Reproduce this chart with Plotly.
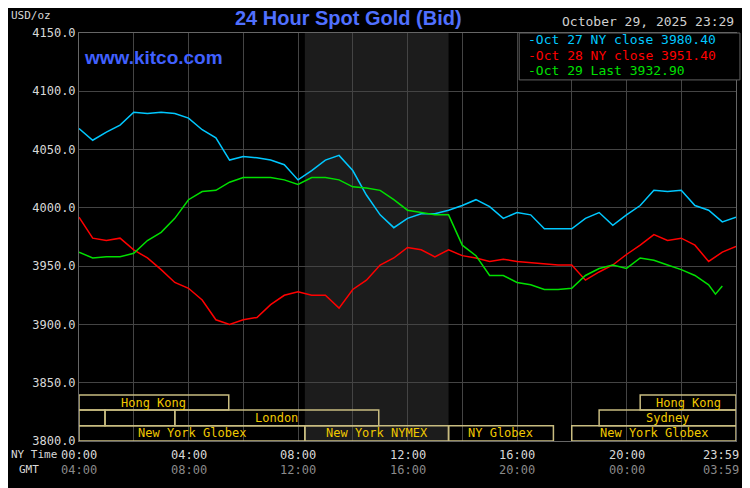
import plotly.graph_objects as go

# half-hour steps, NY time
hours = [i * 0.5 for i in range(49)]
oct27 = [4068, 4058, 4065, 4071, 4082, 4081, 4082, 4081, 4077, 4067, 4060, 4041, 4044, 4043,
         4041, 4037, 4024, 4032, 4041, 4045, 4032, 4011, 3994, 3983, 3991, 3995, 3995, 3998,
         4002, 4007, 4001, 3991, 3996, 3994, 3982, 3982, 3982, 3991, 3996, 3985, 3994, 4002,
         4015, 4014, 4015, 4002, 3998, 3988, 3992]
oct28 = [3992, 3974, 3972, 3974, 3964, 3957, 3947, 3936, 3931, 3921, 3904, 3900, 3904, 3906,
         3917, 3925, 3928, 3925, 3925, 3914, 3930, 3938, 3951, 3957, 3966, 3964, 3958, 3964,
         3959, 3957, 3954, 3956, 3954, 3953, 3952, 3951, 3951, 3938, 3945, 3951, 3960, 3968,
         3977, 3972, 3974, 3968, 3954, 3962, 3967]
oct29 = [3962, 3957, 3958, 3958, 3961, 3972, 3979, 3991, 4007, 4014, 4015, 4022, 4026, 4026,
         4026, 4024, 4020, 4026, 4026, 4024, 4018, 4017, 4015, 4007, 3998, 3996, 3994, 3994,
         3968, 3959, 3942, 3942, 3936, 3934, 3930, 3930, 3931, 3942, 3948, 3951, 3948, 3957,
         3955, 3951, 3947, 3942, 3934, 3926, 3932.9]
oct29_hours = hours[:47] + [23.25, 23.5]

legend_lines = ["Oct 27 NY close 3980.40", "Oct 28 NY close 3951.40", "Oct 29 Last 3932.90"]
legend_colors = ["#00c8ff", "#ff0000", "#00e000"]

ny_ticks = ["00:00", "04:00", "08:00", "12:00", "16:00", "20:00", "23:59"]
gmt_ticks = ["04:00", "08:00", "12:00", "16:00", "20:00", "00:00", "03:59"]
tick_pos = [0, 4, 8, 12, 16, 20, 24]

# (start, end, row, label)
sessions = [
    (0, 5.47, 0, "Hong Kong"), (20.5, 24, 0, "Hong Kong"),
    (0, 0.95, 1, ""), (0.95, 3.5, 1, ""), (3.5, 10.95, 1, "London"), (19, 24, 1, "Sydney"),
    (0, 8.25, 2, "New York Globex"), (8.25, 13.5, 2, "New York NYMEX"),
    (13.5, 17.33, 2, "NY Globex"), (18, 24, 2, "New York Globex"),
]
row_y = [(3826.5, 3839.5), (3813, 3826.5), (3800, 3813)]

mono = "DejaVu Sans Mono"
fig = go.Figure()
fig.add_trace(go.Scatter(x=hours, y=oct27, mode="lines", line=dict(color=legend_colors[0], width=1.5)))
fig.add_trace(go.Scatter(x=hours, y=oct28, mode="lines", line=dict(color=legend_colors[1], width=1.5)))
fig.add_trace(go.Scatter(x=oct29_hours, y=oct29, mode="lines", line=dict(color=legend_colors[2], width=1.5)))

shapes = [dict(type="rect", xref="x", yref="paper", x0=8.25, x1=13.5, y0=0, y1=1,
               fillcolor="#1c1c1c", line_width=0, layer="below")]
annotations = []
for s, e, r, label in sessions:
    y0, y1 = row_y[r]
    shapes.append(dict(type="rect", x0=s, x1=e, y0=y0, y1=y1, fillcolor="rgba(0,0,0,0)",
                       line=dict(color="#c8bc80", width=1.5)))
    if label:
        annotations.append(dict(x=(s + e) / 2, y=(y0 + y1) / 2, text=label, showarrow=False,
                                font=dict(family=mono, size=12, color="#f0c800")))

for p, a, b in zip(tick_pos, ny_ticks, gmt_ticks):
    anchor = "right" if p == 24 else "center"
    shift = 5 if p == 24 else 0
    annotations.append(dict(x=p, y=-0.012, yref="paper", text=a, showarrow=False, xanchor=anchor, xshift=shift,
                            font=dict(family=mono, size=12, color="#d8d8d8"), yanchor="top"))
    annotations.append(dict(x=p, y=-0.05, yref="paper", text=b, showarrow=False, xanchor=anchor, xshift=shift,
                            font=dict(family=mono, size=12, color="#8a8a8a"), yanchor="top"))
annotations += [
    dict(x=-0.106, y=-0.012, xref="paper", yref="paper", text="NY Time", showarrow=False, xanchor="left",
         yanchor="top", font=dict(family=mono, size=11, color="#d8d8d8")),
    dict(x=-0.095, y=-0.05, xref="paper", yref="paper", text="GMT", showarrow=False, xanchor="left",
         yanchor="top", font=dict(family=mono, size=11, color="#d8d8d8")),
    dict(x=-0.106, y=1.044, xref="paper", yref="paper", text="USD/oz", showarrow=False, xanchor="left",
         yanchor="middle", font=dict(family=mono, size=11, color="#d8d8d8")),
    dict(x=0.41, y=1.037, xref="paper", yref="paper", text="<b>24 Hour Spot Gold (Bid)</b>", showarrow=False,
         yanchor="middle", font=dict(family="Liberation Sans", size=20, color="#5070ff")),
    dict(x=0.005, y=0.939, xref="paper", yref="paper", text="<b>www.kitco.com</b>", showarrow=False,
         xanchor="left", yanchor="middle", font=dict(family="Liberation Sans", size=19, color="#4060ff")),
    dict(x=1.0, y=1.027, xref="paper", yref="paper", text="October 29, 2025 23:29", showarrow=False,
         xanchor="right", yanchor="middle", font=dict(family=mono, size=13, color="#d0d0d0")),
]
shapes.append(dict(type="rect", xref="paper", yref="paper", x0=0.67, x1=1.006, y0=0.885, y1=1.0,
                   fillcolor="black", line=dict(color="#606060", width=1)))
for i, (txt, c) in enumerate(zip(legend_lines, legend_colors)):
    annotations.append(dict(x=0.68, y=0.983 - i * 0.037, xref="paper", yref="paper", text="-" + txt,
                            showarrow=False, xanchor="left", yanchor="middle",
                            font=dict(family=mono, size=13, color=c)))

fig.update_layout(
    width=734, height=480, margin=dict(l=71, r=6, t=25, b=47, autoexpand=False),
    paper_bgcolor="black", plot_bgcolor="black", showlegend=False,
    shapes=shapes, annotations=annotations,
    xaxis=dict(range=[0, 24], dtick=2, showticklabels=False, gridcolor="#444444", zeroline=False,
               showline=True, linecolor="#666666", mirror=True),
    yaxis=dict(range=[3800, 4150], dtick=50, tickformat=".1f", gridcolor="#444444", zeroline=False,
               tickfont=dict(family=mono, size=12, color="#d8d8d8"),
               showline=True, linecolor="#666666", mirror=True),
)
fig.write_html("out.html")
